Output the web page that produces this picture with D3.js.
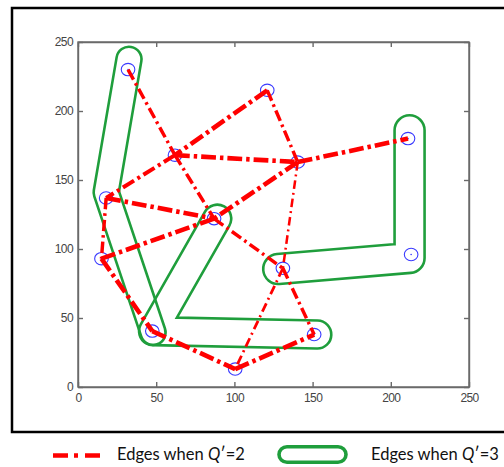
<!DOCTYPE html>
<html>
<head>
<meta charset="utf-8">
<script src="https://cdn.jsdelivr.net/npm/d3@7"></script>
<style>
body { margin:0; background:#fff; }
.axis path, .axis line { stroke:#6a6a6a; stroke-width:1.4; }
.axis text { fill:#444; font-family:"Liberation Sans", Arial, sans-serif; font-size:12px; letter-spacing:-0.6px; }
</style>
</head>
<body>
<div id="chart"></div>
<script>
// node positions (data units)
var nodeX = [32, 121, 62, 140.5, 211, 18, 87, 15, 131, 213, 47.5, 151, 100.5];
var nodeY = [230, 215, 168, 163, 180, 137, 122, 93, 86, 96, 40.5, 38, 13];

// red edges for Q'=2, pairs of node indices, with line weight
var edgeFrom   = [0, 2, 1, 1, 2, 3, 2, 3, 5, 5, 6, 6, 3, 8, 8, 7, 10, 12];
var edgeTo     = [2, 6, 2, 3, 3, 4, 5, 6, 6, 7, 7, 8, 8, 12, 11, 10, 12, 11];
var edgeWeight = [3, 3, 4, 3, 4, 4, 3.5, 4, 4, 3, 4, 3, 2.2, 2.4, 3, 4, 4, 4];

// green groups for Q'=3, centre lines of the outlines (data units)
var groupA = [[32.6, 237.5], [18, 141], [48, 39.5]];
var groupB = [[89, 122], [48, 40.5], [153, 38]];
var groupC = [[128, 85.5], [212, 93.5], [212, 186]];
var groups = [groupA, groupB, groupC];
var groupRadius = [12.5, 14, 15];

var xTicks = [0, 50, 100, 150, 200, 250];
var yTicks = [0, 50, 100, 150, 200, 250];

var width = 504, height = 467;
var plot = {left:78, right:469, top:42, bottom:387};

var svg = d3.select("#chart").append("svg")
	.attr("width", width)
	.attr("height", height);

// outer frame
svg.append("rect")
	.attr("x", 12).attr("y", 8)
	.attr("width", 510).attr("height", 424)
	.attr("fill", "none")
	.attr("stroke", "#000")
	.attr("stroke-width", 2.5);

var xScale = d3.scaleLinear().domain([0, 250]).range([plot.left, plot.right]);
var yScale = d3.scaleLinear().domain([0, 250]).range([plot.bottom, plot.top]);

// box
svg.append("rect")
	.attr("x", plot.left).attr("y", plot.top)
	.attr("width", plot.right - plot.left).attr("height", plot.bottom - plot.top)
	.attr("fill", "none")
	.attr("stroke", "#6a6a6a")
	.attr("stroke-width", 1.4);

svg.append("g").attr("class", "axis")
	.attr("transform", "translate(0," + plot.bottom + ")")
	.call(d3.axisBottom(xScale).tickValues(xTicks).tickSizeInner(-5).tickSizeOuter(0).tickPadding(6));
svg.append("g").attr("class", "axis")
	.attr("transform", "translate(0," + plot.top + ")")
	.call(d3.axisTop(xScale).tickValues(xTicks).tickSizeInner(-5).tickSizeOuter(0).tickFormat(""));
svg.append("g").attr("class", "axis")
	.attr("transform", "translate(" + plot.left + ",0)")
	.call(d3.axisLeft(yScale).tickValues(yTicks).tickSizeInner(-5).tickSizeOuter(0).tickPadding(5));
svg.append("g").attr("class", "axis")
	.attr("transform", "translate(" + plot.right + ",0)")
	.call(d3.axisRight(yScale).tickValues(yTicks).tickSizeInner(-5).tickSizeOuter(0).tickFormat(""));

// green outlines: thick stroke minus a thinner one through a mask
var line = d3.line()
	.x(function(d) { return xScale(d[0]); })
	.y(function(d) { return yScale(d[1]); });
var defs = svg.append("defs");
var green = "#1f9e3c", greenWidth = 2.6;

groups.forEach(function(g, i) {
	var r = groupRadius[i];
	var mask = defs.append("mask")
		.attr("id", "grp" + i)
		.attr("maskUnits", "userSpaceOnUse")
		.attr("x", 0).attr("y", 0).attr("width", width).attr("height", height);
	mask.append("rect").attr("width", width).attr("height", height).attr("fill", "#fff");
	mask.append("path")
		.attr("d", line(g))
		.attr("fill", "none")
		.attr("stroke", "#000")
		.attr("stroke-width", 2 * r - greenWidth)
		.attr("stroke-linejoin", "round")
		.attr("stroke-linecap", "round");
	svg.append("path")
		.attr("d", line(g))
		.attr("fill", "none")
		.attr("stroke", green)
		.attr("stroke-width", 2 * r + greenWidth)
		.attr("stroke-linejoin", "round")
		.attr("stroke-linecap", "round")
		.attr("mask", "url(#grp" + i + ")");
});

// nodes
var nodes = nodeX.map(function(x, i) { return [x, nodeY[i]]; });
svg.append("g").selectAll("ellipse")
	.data(nodes)
	.enter().append("ellipse")
	.attr("cx", function(d) { return xScale(d[0]); })
	.attr("cy", function(d) { return yScale(d[1]); })
	.attr("rx", 6.8).attr("ry", 6.2)
	.attr("fill", "none")
	.attr("stroke", "#3a3aff")
	.attr("stroke-width", 1.1);
svg.append("g").selectAll("circle")
	.data(nodes)
	.enter().append("circle")
	.attr("cx", function(d) { return xScale(d[0]); })
	.attr("cy", function(d) { return yScale(d[1]); })
	.attr("r", 0.8)
	.attr("fill", "#3a3aff");

// red dash-dot edges
svg.append("g").selectAll("line")
	.data(edgeFrom.map(function(f, i) { return {a:nodes[f], b:nodes[edgeTo[i]], w:edgeWeight[i] * 1.15}; }))
	.enter().append("line")
	.attr("x1", function(d) { return xScale(d.a[0]); })
	.attr("y1", function(d) { return yScale(d.a[1]); })
	.attr("x2", function(d) { return xScale(d.b[0]); })
	.attr("y2", function(d) { return yScale(d.b[1]); })
	.attr("stroke", "#ff0000")
	.attr("stroke-width", function(d) { return d.w; })
	.attr("stroke-dasharray", function(d) {
		var k = d.w / 4;
		return [12 * k + 1, 4, 3 * k, 4].join(",");
	});

// legend
var legend = svg.append("g").attr("font-family", "Lato, 'Open Sans', sans-serif").attr("font-size", 16.5).attr("fill", "#111");
legend.append("line")
	.attr("x1", 53).attr("x2", 100).attr("y1", 455.5).attr("y2", 455.5)
	.attr("stroke", "#ff0000").attr("stroke-width", 4.5)
	.attr("stroke-dasharray", "15,6,4,7,15");
var t1 = legend.append("text").attr("x", 117).attr("y", 460);
t1.append("tspan").text("Edges when ");
t1.append("tspan").attr("font-style", "italic").text("Q");
t1.append("tspan").text("\u2032=2");

legend.append("rect")
	.attr("x", 279).attr("y", 446.8)
	.attr("width", 67).attr("height", 15.5)
	.attr("rx", 8)
	.attr("fill", "none")
	.attr("stroke", green).attr("stroke-width", 3.6);
var t2 = legend.append("text").attr("x", 371).attr("y", 460);
t2.append("tspan").text("Edges when ");
t2.append("tspan").attr("font-style", "italic").text("Q");
t2.append("tspan").text("\u2032=3");
</script>
</body>
</html>
